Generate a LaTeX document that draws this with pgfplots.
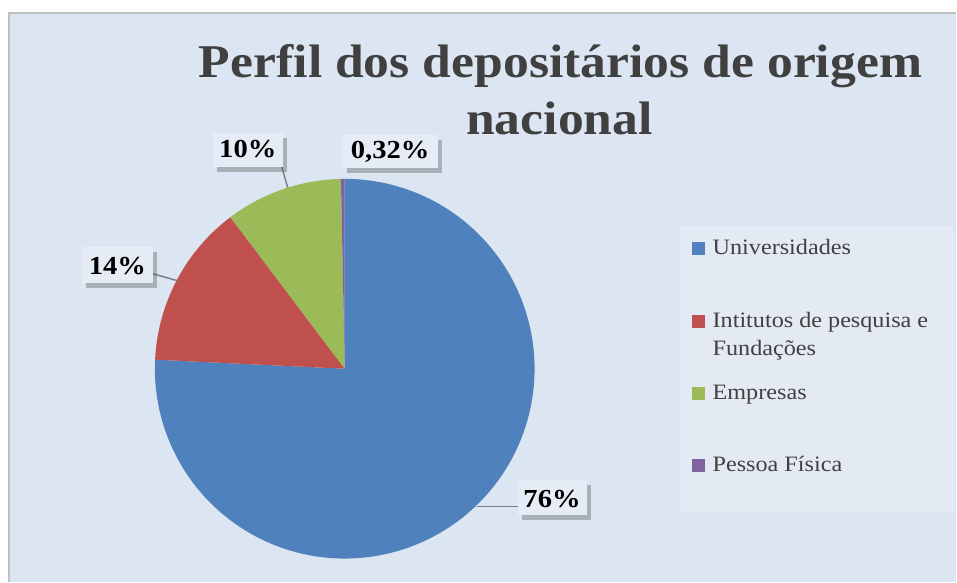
\documentclass[border=0pt]{standalone}
\usepackage{fontspec}
\setmainfont{Liberation Serif}
\newfontfamily\chartfont[FakeStretch=1.1]{Liberation Serif}
\usepackage{pgfplots}
\pgfplotsset{compat=1.18}
\usetikzlibrary{shadows}

\definecolor{uni}{HTML}{4F81BD}
\definecolor{inst}{HTML}{C0504D}
\definecolor{emp}{HTML}{9BBB59}
\definecolor{pf}{HTML}{8064A2}
\definecolor{chartbg}{HTML}{DCE6F2}
\definecolor{legbg}{HTML}{E4EAF3}
\definecolor{boxbg}{HTML}{E6ECF5}
\definecolor{titlegray}{HTML}{404040}
\definecolor{border}{HTML}{BFBFBF}

% values: 76, 14, 10, 0.32 (sum 100.32), slices clockwise from the top
\begin{document}
\begin{tikzpicture}
\begin{axis}[
    width=957pt, height=582pt, scale only axis,
    hide axis, clip=false,
    xmin=0, xmax=957, ymin=0, ymax=582, y dir=reverse,
]
\fill[white] (axis cs:0,0) rectangle (axis cs:957,582);
\fill[chartbg] (axis cs:9,13) rectangle (axis cs:957,582);
\draw[border, line width=1.5pt] (axis cs:9,582) -- (axis cs:9,13) -- (axis cs:957,13);

% title
\node[anchor=base, text=titlegray, font=\chartfont\bfseries\fontsize{47}{57}\selectfont]
  at (axis cs:561,78) {Perfil dos depositários de origem};
\node[anchor=base, text=titlegray, font=\chartfont\bfseries\fontsize{47}{57}\selectfont]
  at (axis cs:560,135) {nacional};

% pie slices
\addplot[fill=uni, draw=none, domain={90-360*76/100.32}:90, samples=180, variable=\t]
  ({345+190*cos(\t)}, {369-190*sin(\t)}) -- (axis cs:345,369) -- cycle;
\addplot[fill=inst, draw=none, domain={90-360*90/100.32}:{90-360*76/100.32}, samples=60, variable=\t]
  ({345+190*cos(\t)}, {369-190*sin(\t)}) -- (axis cs:345,369) -- cycle;
\addplot[fill=emp, draw=none, domain={90-360*100/100.32}:{90-360*90/100.32}, samples=40, variable=\t]
  ({345+190*cos(\t)}, {369-190*sin(\t)}) -- (axis cs:345,369) -- cycle;
\addplot[fill=pf, draw=none, domain={90-360*100.32/100.32}:{90-360*100/100.32}, samples=5, variable=\t]
  ({345+190*cos(\t)}, {369-190*sin(\t)}) -- (axis cs:345,369) -- cycle;

% leader lines
\draw[gray, line width=1.5pt] (axis cs:477,507) -- (axis cs:518,507);
\draw[gray, line width=1.5pt] (axis cs:153,274) -- (axis cs:178,281);
\draw[gray, line width=1.5pt] (axis cs:280,160) -- (axis cs:288,188);

% data label boxes
\tikzset{lbox/.style={fill=boxbg, inner sep=0pt,
  drop shadow={shadow xshift=4pt, shadow yshift=-5pt, opacity=0.35, fill=black!70}}}
\node[lbox, minimum width=70pt, minimum height=34pt] at (axis cs:248,150) {};
\node[lbox, minimum width=95pt, minimum height=33pt] at (axis cs:390.5,151.5) {};
\node[lbox, minimum width=71pt, minimum height=36pt] at (axis cs:117.5,265) {};
\node[lbox, minimum width=69pt, minimum height=35pt] at (axis cs:552.5,497.5) {};

\tikzset{ltext/.style={anchor=base, text=black, font=\chartfont\bfseries\fontsize{26}{30}\selectfont}}
\node[ltext] at (axis cs:248,158) {10\%};
\node[ltext] at (axis cs:390.5,159) {0,32\%};
\node[ltext] at (axis cs:117.5,275) {14\%};
\node[ltext] at (axis cs:552.5,508) {76\%};

% legend
\fill[legbg] (axis cs:681,226) rectangle (axis cs:955,513);
\tikzset{legtext/.style={anchor=base west, inner sep=0pt, text=titlegray,
  font=\chartfont\fontsize{22}{28}\selectfont}}
\fill[uni] (axis cs:693,242) rectangle (axis cs:706,255);
\node[legtext] at (axis cs:713,255) {Universidades};
\fill[inst] (axis cs:693,315) rectangle (axis cs:706,328);
\node[legtext] at (axis cs:713,328) {Intitutos de pesquisa e};
\node[legtext] at (axis cs:713,356) {Fundações};
\fill[emp] (axis cs:693,387) rectangle (axis cs:706,400);
\node[legtext] at (axis cs:713,400) {Empresas};
\fill[pf] (axis cs:693,459) rectangle (axis cs:706,472);
\node[legtext] at (axis cs:713,472) {Pessoa Física};
\end{axis}
\end{tikzpicture}
\end{document}
